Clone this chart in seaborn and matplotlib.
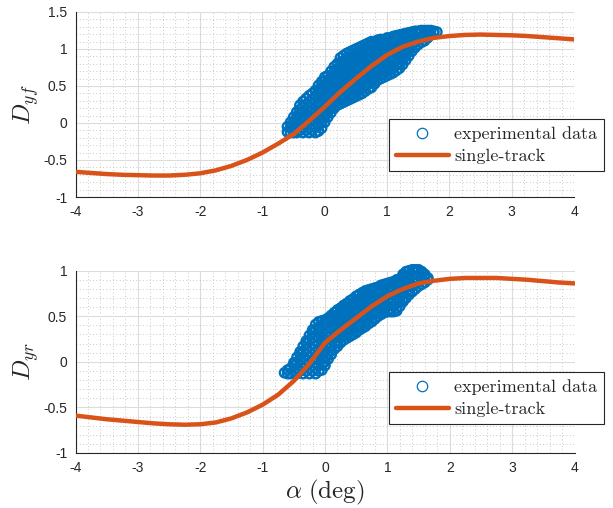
import numpy as np
import pandas as pd
import matplotlib
matplotlib.use("Agg")
import matplotlib.pyplot as plt
import seaborn as sns
from matplotlib.ticker import MultipleLocator, FuncFormatter
from matplotlib.lines import Line2D

# single-track model, every 0.25 deg
alpha_grid = [-4.0, -3.75, -3.5, -3.25, -3.0, -2.75, -2.5, -2.25, -2.0, -1.75, -1.5,
              -1.25, -1.0, -0.75, -0.5, -0.25, 0.0, 0.25, 0.5, 0.75, 1.0, 1.25, 1.5,
              1.75, 2.0, 2.25, 2.5, 2.75, 3.0, 3.25, 3.5, 3.75, 4.0]
dyf_model = [-0.66, -0.675, -0.69, -0.70, -0.705, -0.71, -0.71, -0.70, -0.68, -0.64, -0.58,
             -0.50, -0.40, -0.28, -0.15, 0.03, 0.22, 0.42, 0.60, 0.77, 0.92, 1.03, 1.10,
             1.15, 1.175, 1.19, 1.195, 1.19, 1.185, 1.175, 1.16, 1.145, 1.13]
dyr_model = [-0.59, -0.61, -0.63, -0.645, -0.66, -0.675, -0.685, -0.69, -0.685, -0.665, -0.62,
             -0.555, -0.47, -0.36, -0.21, -0.02, 0.21, 0.35, 0.48, 0.61, 0.72, 0.80, 0.86,
             0.89, 0.91, 0.92, 0.92, 0.92, 0.91, 0.90, 0.885, 0.87, 0.86]

# experimental data (front), per alpha column
dyf_exp = [
    (-0.60, [-0.12, -0.05]),
    (-0.55, [-0.13, -0.06, 0.01]),
    (-0.50, [-0.13, -0.06, 0.01, 0.08]),
    (-0.45, [-0.13, -0.06, 0.01, 0.08, 0.15]),
    (-0.40, [-0.10, -0.03, 0.04, 0.11, 0.18, 0.24]),
    (-0.35, [-0.13, -0.06, 0.01, 0.08, 0.15, 0.22, 0.29]),
    (-0.30, [-0.10, -0.03, 0.04, 0.11, 0.18, 0.25, 0.33]),
    (-0.25, [-0.13, -0.06, 0.01, 0.08, 0.15, 0.22, 0.29, 0.37]),
    (-0.20, [-0.10, -0.03, 0.04, 0.11, 0.18, 0.25, 0.32, 0.40]),
    (-0.15, [-0.13, -0.06, 0.01, 0.08, 0.15, 0.22, 0.29, 0.36, 0.44]),
    (-0.10, [-0.11, -0.04, 0.03, 0.10, 0.17, 0.24, 0.31, 0.38, 0.45, 0.51]),
    (-0.05, [-0.07, 0.00, 0.07, 0.14, 0.21, 0.28, 0.35, 0.42, 0.49, 0.56]),
    (0.00, [0.01, 0.08, 0.15, 0.22, 0.29, 0.36, 0.43, 0.50, 0.57, 0.62]),
    (0.05, [0.08, 0.15, 0.22, 0.29, 0.36, 0.43, 0.50, 0.57, 0.64]),
    (0.10, [0.14, 0.21, 0.28, 0.35, 0.42, 0.49, 0.56, 0.63, 0.70]),
    (0.15, [0.20, 0.27, 0.34, 0.41, 0.48, 0.55, 0.62, 0.69, 0.76]),
    (0.20, [0.24, 0.31, 0.38, 0.45, 0.52, 0.59, 0.66, 0.73, 0.80]),
    (0.25, [0.26, 0.33, 0.40, 0.47, 0.54, 0.61, 0.68, 0.75, 0.82, 0.88]),
    (0.30, [0.28, 0.35, 0.42, 0.49, 0.56, 0.63, 0.70, 0.77, 0.84, 0.91]),
    (0.35, [0.30, 0.37, 0.44, 0.51, 0.58, 0.65, 0.72, 0.79, 0.86, 0.94]),
    (0.40, [0.32, 0.39, 0.46, 0.53, 0.60, 0.67, 0.74, 0.81, 0.88, 0.96]),
    (0.45, [0.34, 0.41, 0.48, 0.55, 0.62, 0.69, 0.76, 0.83, 0.90, 0.98]),
    (0.50, [0.36, 0.43, 0.50, 0.57, 0.64, 0.71, 0.78, 0.85, 0.92, 1.00]),
    (0.55, [0.38, 0.45, 0.52, 0.59, 0.66, 0.73, 0.80, 0.87, 0.94, 1.02]),
    (0.60, [0.40, 0.47, 0.54, 0.61, 0.68, 0.75, 0.82, 0.89, 0.96, 1.04]),
    (0.65, [0.43, 0.50, 0.57, 0.64, 0.71, 0.78, 0.85, 0.92, 0.99, 1.06]),
    (0.70, [0.46, 0.53, 0.60, 0.67, 0.74, 0.81, 0.88, 0.95, 1.02, 1.08]),
    (0.75, [0.48, 0.55, 0.62, 0.69, 0.76, 0.83, 0.90, 0.97, 1.04, 1.10]),
    (0.80, [0.53, 0.60, 0.67, 0.74, 0.81, 0.88, 0.95, 1.02, 1.10]),
    (0.85, [0.58, 0.65, 0.72, 0.79, 0.86, 0.93, 1.00, 1.07, 1.12]),
    (0.90, [0.60, 0.67, 0.74, 0.81, 0.88, 0.95, 1.02, 1.09, 1.13]),
    (0.95, [0.62, 0.69, 0.76, 0.83, 0.90, 0.97, 1.04, 1.11]),
    (1.00, [0.64, 0.71, 0.78, 0.85, 0.92, 0.99, 1.06, 1.13, 1.15]),
    (1.05, [0.66, 0.73, 0.80, 0.87, 0.94, 1.01, 1.08, 1.15]),
    (1.10, [0.68, 0.75, 0.82, 0.89, 0.96, 1.03, 1.10, 1.17]),
    (1.15, [0.71, 0.78, 0.85, 0.92, 0.99, 1.06, 1.13, 1.18]),
    (1.20, [0.74, 0.81, 0.88, 0.95, 1.02, 1.09, 1.16, 1.19]),
    (1.25, [0.79, 0.86, 0.93, 1.00, 1.07, 1.14, 1.20]),
    (1.30, [0.85, 0.92, 0.99, 1.06, 1.13, 1.21]),
    (1.35, [0.91, 0.98, 1.05, 1.12, 1.19, 1.22]),
    (1.40, [0.97, 1.04, 1.11, 1.18, 1.23]),
    (1.45, [1.02, 1.09, 1.16, 1.24]),
    (1.50, [1.06, 1.13, 1.20, 1.24]),
    (1.55, [1.09, 1.16, 1.25]),
    (1.60, [1.11, 1.18, 1.25]),
    (1.65, [1.15, 1.21, 1.25]),
    (1.70, [1.19, 1.25]),
    (1.75, [1.22, 1.24]),
    (1.80, [1.23]),
]

# experimental data (rear), per alpha column
dyr_exp = [
    (-0.65, [-0.12]),
    (-0.60, [-0.13, -0.09]),
    (-0.55, [-0.13, -0.07]),
    (-0.50, [-0.10, -0.04, -0.01]),
    (-0.45, [-0.13, -0.07, -0.01, 0.05]),
    (-0.40, [-0.10, -0.04, 0.02, 0.08, 0.11]),
    (-0.35, [-0.13, -0.07, -0.01, 0.05, 0.11, 0.17]),
    (-0.30, [-0.10, -0.04, 0.02, 0.08, 0.14, 0.20, 0.23]),
    (-0.25, [-0.13, -0.07, -0.01, 0.05, 0.11, 0.17, 0.23, 0.29]),
    (-0.20, [-0.10, -0.04, 0.02, 0.08, 0.14, 0.20, 0.26, 0.32, 0.35]),
    (-0.15, [-0.13, -0.07, -0.01, 0.05, 0.11, 0.17, 0.23, 0.29, 0.35, 0.41]),
    (-0.10, [-0.10, -0.04, 0.02, 0.08, 0.14, 0.20, 0.26, 0.32, 0.38, 0.44]),
    (-0.05, [-0.09, -0.03, 0.03, 0.09, 0.15, 0.21, 0.27, 0.33, 0.39, 0.45]),
    (0.00, [-0.04, 0.00, 0.06, 0.12, 0.18, 0.24, 0.30, 0.36, 0.42, 0.46]),
    (0.05, [0.03, 0.09, 0.15, 0.21, 0.27, 0.33, 0.39, 0.45, 0.48]),
    (0.10, [0.08, 0.12, 0.18, 0.24, 0.30, 0.36, 0.42, 0.48, 0.51]),
    (0.15, [0.14, 0.20, 0.26, 0.32, 0.38, 0.44, 0.50, 0.54]),
    (0.20, [0.17, 0.21, 0.27, 0.33, 0.39, 0.45, 0.51, 0.57]),
    (0.25, [0.21, 0.27, 0.33, 0.39, 0.45, 0.51, 0.57, 0.59]),
    (0.30, [0.24, 0.30, 0.36, 0.42, 0.48, 0.54, 0.60, 0.62]),
    (0.35, [0.26, 0.29, 0.35, 0.41, 0.47, 0.53, 0.59, 0.64]),
    (0.40, [0.28, 0.34, 0.40, 0.46, 0.52, 0.58, 0.64, 0.67]),
    (0.45, [0.30, 0.33, 0.39, 0.45, 0.51, 0.57, 0.63, 0.69]),
    (0.50, [0.32, 0.38, 0.44, 0.50, 0.56, 0.62, 0.68, 0.72]),
    (0.55, [0.35, 0.38, 0.44, 0.50, 0.56, 0.62, 0.68, 0.74]),
    (0.60, [0.37, 0.43, 0.49, 0.55, 0.61, 0.67, 0.73, 0.76]),
    (0.65, [0.39, 0.42, 0.48, 0.54, 0.60, 0.66, 0.72, 0.78]),
    (0.70, [0.42, 0.48, 0.54, 0.60, 0.66, 0.72, 0.78, 0.79]),
    (0.75, [0.44, 0.47, 0.53, 0.59, 0.65, 0.71, 0.77, 0.80]),
    (0.80, [0.47, 0.53, 0.59, 0.65, 0.71, 0.77, 0.81]),
    (0.85, [0.50, 0.53, 0.59, 0.65, 0.71, 0.77, 0.82]),
    (0.90, [0.52, 0.58, 0.64, 0.70, 0.76, 0.82, 0.84]),
    (0.95, [0.54, 0.57, 0.63, 0.69, 0.75, 0.81, 0.85]),
    (1.00, [0.55, 0.61, 0.67, 0.73, 0.79, 0.85, 0.86]),
    (1.05, [0.55, 0.58, 0.64, 0.70, 0.76, 0.82, 0.87]),
    (1.10, [0.55, 0.61, 0.67, 0.73, 0.79, 0.85, 0.88]),
    (1.15, [0.56, 0.59, 0.65, 0.71, 0.77, 0.83, 0.89, 0.90]),
    (1.20, [0.61, 0.67, 0.73, 0.79, 0.85, 0.91]),
    (1.25, [0.66, 0.69, 0.75, 0.81, 0.87, 0.93, 0.96]),
    (1.30, [0.70, 0.76, 0.82, 0.88, 0.94, 0.99]),
    (1.35, [0.74, 0.77, 0.83, 0.89, 0.95, 1.00]),
    (1.40, [0.77, 0.83, 0.89, 0.95, 1.01]),
    (1.45, [0.80, 0.86, 0.92, 0.98, 1.01]),
    (1.50, [0.83, 0.89, 0.95, 1.01]),
    (1.55, [0.85, 0.91, 0.97, 0.99]),
    (1.60, [0.87, 0.93, 0.96]),
    (1.65, [0.90, 0.92]),
]

blue = "#0072BD"
orange = "#D95319"
ink = "#262626"


def columns_to_frame(cols):
    rows = [(a, d) for a, ds in cols for d in ds]
    return pd.DataFrame(rows, columns=["alpha", "D"])


sns.set_style("white")
plt.rcParams["font.family"] = ["Liberation Sans", "DejaVu Sans"]
plt.rcParams["mathtext.fontset"] = "cm"
plt.rcParams["axes.unicode_minus"] = False

fig = plt.figure(figsize=(6.13, 5.08), dpi=100)
ax_top = fig.add_axes([0.1232, 0.6122, 0.8132, 0.3642])
ax_bot = fig.add_axes([0.1232, 0.1083, 0.8140, 0.3589])

model = pd.DataFrame({"alpha": alpha_grid, "Dyf": dyf_model, "Dyr": dyr_model})

panels = [
    (ax_top, columns_to_frame(dyf_exp), "Dyf", r"$D_{yf}$", (-1, 1.5), (389, 119)),
    (ax_bot, columns_to_frame(dyr_exp), "Dyr", r"$D_{yr}$", (-1, 1), (389, 372)),
]

for ax, exp, col, ylab, ylim, leg_px in panels:
    sns.scatterplot(data=exp, x="alpha", y="D", ax=ax, marker="o", s=44,
                    color=blue, facecolor="none", edgecolor=blue, linewidth=1.7,
                    legend=False, zorder=3, clip_on=False)
    sns.lineplot(data=model, x="alpha", y=col, ax=ax, color=orange, linewidth=3.2,
                 sort=False, estimator=None, zorder=4)

    ax.set_xlim(-4, 4)
    ax.set_ylim(*ylim)
    ax.xaxis.set_major_locator(MultipleLocator(1))
    ax.xaxis.set_minor_locator(MultipleLocator(0.2))
    ax.yaxis.set_major_locator(MultipleLocator(0.5))
    ax.yaxis.set_minor_locator(MultipleLocator(0.1))
    fmt = FuncFormatter(lambda v, p: "%g" % v)
    ax.xaxis.set_major_formatter(fmt)
    ax.yaxis.set_major_formatter(fmt)

    ax.grid(True, which="major", color="#dcdcdc", linewidth=0.8, zorder=0)
    ax.grid(True, which="minor", color="#b8b8b8", linewidth=0.6,
            linestyle=(0, (1, 3)), zorder=0)
    ax.set_axisbelow(True)

    for side in ["top", "right"]:
        ax.spines[side].set_visible(False)
    for side in ["left", "bottom"]:
        ax.spines[side].set_color(ink)
        ax.spines[side].set_linewidth(0.8)
    ax.tick_params(which="major", direction="in", length=4, width=0.8, color=ink,
                   labelcolor=ink, labelsize=10, pad=6)
    ax.tick_params(which="minor", length=0)

    ax.set_ylabel(ylab, fontsize=18, color=ink, labelpad=2)
    ax.set_xlabel("")

    handles = [
        Line2D([], [], marker="o", linestyle="none", markerfacecolor="none",
               markeredgecolor=blue, markersize=7.5, markeredgewidth=0.9),
        Line2D([], [], color=orange, linewidth=3.2),
    ]
    leg = ax.legend(handles, ["experimental data", "single-track"],
                    loc="upper left",
                    bbox_to_anchor=(leg_px[0] / 613, 1 - leg_px[1] / 508),
                    bbox_transform=fig.transFigure, borderaxespad=0,
                    prop={"family": "cmr10", "size": 13.0}, frameon=True,
                    fancybox=False, framealpha=1, edgecolor=ink,
                    handlelength=2.9, handletextpad=0.3, borderpad=0.4,
                    labelspacing=0.35)
    leg.get_frame().set_linewidth(0.8)
    leg.set_zorder(10)

ax_bot.set_xlabel(r"$\alpha\ (\mathrm{deg})$", fontsize=18, color=ink, labelpad=2)

fig.savefig("out.png", dpi=100)
